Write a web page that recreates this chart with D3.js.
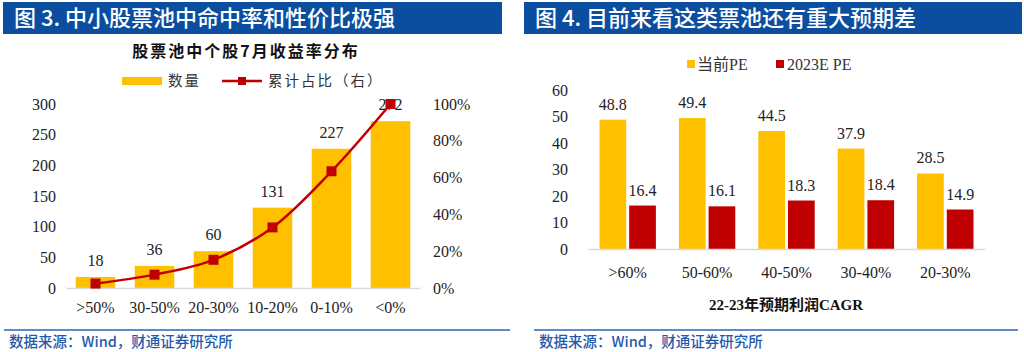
<!DOCTYPE html>
<html><head><meta charset="utf-8">
<script src="https://cdn.jsdelivr.net/npm/d3@7"></script>
<style>
body{margin:0;background:#fff;}
svg{display:block;}
</style></head><body>
<svg id="c" width="1024" height="352"></svg>
<script>
// ---------- data ----------
const leftCategories = [">50%", "30-50%", "20-30%", "10-20%", "0-10%", "<0%"];
const leftCounts = [18, 36, 60, 131, 227, 272];
const leftTicks = [0, 50, 100, 150, 200, 250, 300];
const leftPctTicks = [0, 0.2, 0.4, 0.6, 0.8, 1.0];
const rightCategories = [">60%", "50-60%", "40-50%", "30-40%", "20-30%"];
const currentPE = [48.8, 49.4, 44.5, 37.9, 28.5];
const pe2023E = [16.4, 16.1, 18.3, 18.4, 14.9];
const rightTicks = [0, 10, 20, 30, 40, 50, 60];
const seriesNames = ["当前PE", "2023E PE"];

const YEL = "#FFC000", RED = "#C00000", BLUE = "#0B4EA0", SRC = "#1F5BAA";
const serif = "'Liberation Serif','Times New Roman','Noto Sans CJK SC',serif";
const cjk = "'Noto Sans CJK SC','Noto Sans',sans-serif";
const svg = d3.select("#c");

// ---------- headers / footers ----------
function header(x, w, text) {
  svg.append("rect").attr("x", x).attr("y", 2).attr("width", w).attr("height", 32).attr("fill", BLUE);
  svg.append("text").attr("x", x + 11).attr("y", 18).attr("dy", "0.36em")
    .attr("fill", "#fff").attr("font-family", cjk).attr("font-weight", 500).attr("font-size", 22).text(text);
}
function footer(x1, x2) {
  svg.append("line").attr("x1", x1).attr("x2", x2).attr("y1", 330).attr("y2", 330)
    .attr("stroke", "#2E63B0").attr("stroke-width", 1.5);
  svg.append("text").attr("x", x1 + 5).attr("y", 342).attr("dy", "0.36em")
    .attr("fill", SRC).attr("font-family", cjk).attr("font-weight", 500).attr("font-size", 14.5).text("数据来源：Wind，财通证券研究所");
}
header(3, 499, "图 3. 中小股票池中命中率和性价比极强");
header(524, 498, "图 4. 目前来看这类票池还有重大预期差");
footer(4, 510);
footer(534, 1018);

// ---------- left chart ----------
{
  const x = d3.scaleBand().domain(leftCategories).range([66, 420]).paddingInner(0.33).paddingOuter(0.165);
  const y = d3.scaleLinear().domain([0, 300]).range([288, 104]);
  const total = d3.sum(leftCounts);
  let acc = 0;
  const cum = leftCounts.map(v => (acc += v) / total);
  const y2 = d3.scaleLinear().domain([0, 1]).range([288, 104]);

  svg.append("text").attr("x", 246).attr("y", 51).attr("dy", "0.36em").attr("text-anchor", "middle")
    .attr("font-family", cjk).attr("font-weight", "bold").attr("font-size", 16).attr("letter-spacing", 2)
    .attr("fill", "#111").text("股票池中个股7月收益率分布");

  // legend
  svg.append("rect").attr("x", 122).attr("y", 77).attr("width", 40).attr("height", 8).attr("fill", YEL);
  svg.append("text").attr("x", 168).attr("y", 81).attr("dy", "0.36em").attr("font-family", cjk)
    .attr("font-size", 14.5).attr("letter-spacing", 2).attr("fill", "#333").text("数量");
  svg.append("line").attr("x1", 222).attr("x2", 262).attr("y1", 81).attr("y2", 81).attr("stroke", RED).attr("stroke-width", 2.5);
  svg.append("rect").attr("x", 238).attr("y", 77).attr("width", 8).attr("height", 8).attr("fill", RED);
  svg.append("text").attr("x", 268).attr("y", 81).attr("dy", "0.36em").attr("font-family", cjk)
    .attr("font-size", 14.5).attr("letter-spacing", 2).attr("fill", "#333").text("累计占比（右）");

  // axes
  const ga = svg.append("g").attr("transform", "translate(56,0)")
    .call(d3.axisLeft(y).tickValues(leftTicks).tickSize(0).tickPadding(0));
  ga.select(".domain").remove();
  ga.selectAll("text").attr("font-family", serif).attr("font-size", 16).attr("fill", "#222");
  const gr = svg.append("g").attr("transform", "translate(433,0)")
    .call(d3.axisRight(y2).tickValues(leftPctTicks).tickFormat(d3.format(".0%")).tickSize(0).tickPadding(0));
  gr.select(".domain").remove();
  gr.selectAll("text").attr("font-family", serif).attr("font-size", 16).attr("fill", "#222");

  svg.selectAll(".lbar").data(leftCounts).join("rect")
    .attr("x", (d, i) => x(leftCategories[i])).attr("width", x.bandwidth())
    .attr("y", d => y(d)).attr("height", d => y(0) - y(d)).attr("fill", YEL);

  const gx = svg.append("g").attr("transform", "translate(0,288)")
    .call(d3.axisBottom(x).tickSize(0).tickPadding(14));
  gx.select(".domain").attr("stroke", "#d9d9d9").attr("stroke-width", 1.5);
  gx.selectAll("text").attr("font-family", serif).attr("font-size", 16).attr("fill", "#222");

  svg.selectAll(".llab").data(leftCounts).join("text")
    .attr("x", (d, i) => x(leftCategories[i]) + x.bandwidth() / 2).attr("y", d => y(d) - 11)
    .attr("text-anchor", "middle").attr("font-family", serif).attr("font-size", 16).attr("fill", "#222")
    .text(d => d);

  const line = d3.line().x((d, i) => x(leftCategories[i]) + x.bandwidth() / 2).y(d => y2(d))
    .curve(d3.curveCatmullRom.alpha(0.5));
  svg.append("path").attr("d", line(cum)).attr("fill", "none").attr("stroke", RED).attr("stroke-width", 2.5);
  svg.selectAll(".mk").data(cum).join("rect")
    .attr("x", (d, i) => x(leftCategories[i]) + x.bandwidth() / 2 - 5).attr("y", d => y2(d) - 5)
    .attr("width", 10).attr("height", 10).attr("fill", RED);
}

// ---------- right chart ----------
{
  const x0 = d3.scaleBand().domain(rightCategories).range([588, 985]).paddingInner(0.29).paddingOuter(0.145);
  const x1 = d3.scaleBand().domain(seriesNames).range([0, x0.bandwidth()]).paddingInner(0.1);
  const y = d3.scaleLinear().domain([0, 60]).range([249, 90]);

  // legend
  svg.append("rect").attr("x", 687).attr("y", 60).attr("width", 8).attr("height", 8).attr("fill", YEL);
  svg.append("text").attr("x", 697).attr("y", 64).attr("dy", "0.36em").attr("font-family", serif)
    .attr("font-size", 16).attr("fill", "#333").text(seriesNames[0]);
  svg.append("rect").attr("x", 776).attr("y", 60).attr("width", 8).attr("height", 8).attr("fill", RED);
  svg.append("text").attr("x", 787).attr("y", 64).attr("dy", "0.36em").attr("font-family", serif)
    .attr("font-size", 16).attr("fill", "#333").text(seriesNames[1]);

  const ga = svg.append("g").attr("transform", "translate(568,0)")
    .call(d3.axisLeft(y).tickValues(rightTicks).tickSize(0).tickPadding(0));
  ga.select(".domain").remove();
  ga.selectAll("text").attr("font-family", serif).attr("font-size", 16).attr("fill", "#222");

  const groups = [currentPE, pe2023E];
  const colors = [YEL, RED];
  groups.forEach((vals, s) => {
    svg.selectAll(".rb" + s).data(vals).join("rect")
      .attr("x", (d, i) => x0(rightCategories[i]) + x1(seriesNames[s])).attr("width", x1.bandwidth())
      .attr("y", d => y(d)).attr("height", d => y(0) - y(d)).attr("fill", colors[s]);
    svg.selectAll(".rl" + s).data(vals).join("text")
      .attr("x", (d, i) => x0(rightCategories[i]) + x1(seriesNames[s]) + x1.bandwidth() / 2).attr("y", d => y(d) - 10)
      .attr("text-anchor", "middle").attr("font-family", serif).attr("font-size", 16).attr("fill", "#222")
      .text(d => d.toFixed(1));
  });

  const gx = svg.append("g").attr("transform", "translate(0,249)")
    .call(d3.axisBottom(x0).tickSize(0).tickPadding(18));
  gx.select(".domain").attr("stroke", "#d9d9d9").attr("stroke-width", 1.5);
  gx.selectAll("text").attr("font-family", serif).attr("font-size", 16).attr("fill", "#222");

  svg.append("text").attr("x", 786).attr("y", 305).attr("dy", "0.36em").attr("text-anchor", "middle")
    .attr("font-family", serif).attr("font-weight", "bold").attr("font-size", 15).attr("fill", "#111")
    .text("22-23年预期利润CAGR");
}
</script>
</body></html>
